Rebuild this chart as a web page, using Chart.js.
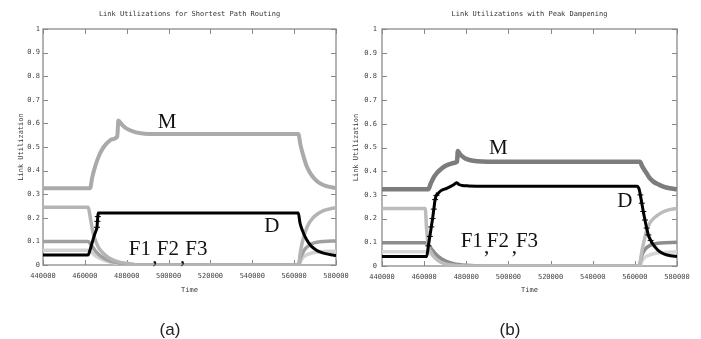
<!DOCTYPE html>
<html>
<head>
<meta charset="utf-8">
<script src="https://cdn.jsdelivr.net/npm/chart.js@4.4.1/dist/chart.umd.min.js"></script>
<style>
  html, body { margin: 0; padding: 0; background: #fff; }
  #wrap { position: relative; width: 701px; height: 339px; overflow: hidden; }
  canvas { position: absolute; top: 0; }
  #chartA { left: 0; }
  #chartB { left: 350px; }
</style>
</head>
<body>
<div id="wrap">
  <canvas id="chartA" width="350" height="339"></canvas>
  <canvas id="chartB" width="351" height="339"></canvas>
</div>
<script>
// (a) shortest path routing: time stamps and link utilizations per link
const tA_M  = [440000, 462500, 463500, 465000, 467000, 469000, 471000, 473000, 475500, 476000, 478000, 480000, 483000, 486000, 491000, 562000, 563000, 564000, 566000, 568000, 570000, 572000, 575000, 580000];
const uA_M  = [0.325, 0.325, 0.37, 0.42, 0.468, 0.5, 0.52, 0.533, 0.545, 0.612, 0.592, 0.578, 0.566, 0.559, 0.555, 0.555, 0.51, 0.475, 0.418, 0.385, 0.363, 0.348, 0.335, 0.326];
const tA_D  = [440000, 461500, 462500, 463500, 464500, 465500, 465800, 466000, 466200, 466400, 562000, 562800, 564000, 565200, 566700, 568400, 570300, 572300, 575000, 578600, 580000];
const uA_D  = [0.042, 0.042, 0.065, 0.095, 0.125, 0.15, 0.16, 0.185, 0.205, 0.22, 0.22, 0.178, 0.145, 0.12, 0.097, 0.078, 0.065, 0.056, 0.048, 0.042, 0.04];
const tA_F1 = [440000, 461500, 462800, 464000, 465600, 467000, 468800, 471000, 473600, 477000, 480000, 486000, 562000, 563000, 564000, 565500, 567000, 569000, 571000, 574000, 577000, 580000];
const uA_F1 = [0.245, 0.245, 0.19, 0.134, 0.092, 0.068, 0.05, 0.033, 0.021, 0.011, 0.007, 0, 0, 0.055, 0.1, 0.145, 0.175, 0.2, 0.215, 0.23, 0.238, 0.243];
const tA_F2 = [440000, 461500, 463000, 465000, 467000, 470000, 474000, 480000, 488000, 562000, 563000, 564500, 566000, 568000, 570000, 574000, 580000];
const uA_F2 = [0.1, 0.1, 0.085, 0.06, 0.042, 0.025, 0.012, 0.004, 0, 0, 0.03, 0.058, 0.075, 0.088, 0.095, 0.1, 0.102];
const tA_F3 = [440000, 461500, 463000, 465000, 468000, 472000, 478000, 486000, 562000, 564000, 566000, 569000, 574000, 580000];
const uA_F3 = [0.062, 0.062, 0.055, 0.04, 0.025, 0.012, 0.004, 0, 0, 0.03, 0.043, 0.052, 0.057, 0.058];

// (b) peak dampening
const tB_M  = [440000, 462000, 463000, 464300, 466000, 467500, 469000, 470700, 472500, 474600, 475600, 476000, 477000, 478500, 480000, 482000, 485000, 490000, 562400, 563500, 565600, 567000, 568800, 571000, 573500, 576500, 580000];
const uB_M  = [0.324, 0.324, 0.345, 0.37, 0.392, 0.405, 0.416, 0.425, 0.431, 0.436, 0.44, 0.485, 0.472, 0.46, 0.452, 0.446, 0.442, 0.44, 0.44, 0.42, 0.391, 0.372, 0.356, 0.345, 0.335, 0.328, 0.324];
const tB_D  = [440000, 461200, 462000, 462700, 463400, 464000, 464600, 465200, 465800, 466500, 468000, 470700, 473800, 475400, 476500, 478000, 481000, 490000, 561000, 562000, 562600, 563300, 564000, 564800, 565600, 566400, 567500, 568800, 570300, 571900, 574000, 577000, 580000];
const uB_D  = [0.04, 0.04, 0.085, 0.125, 0.165, 0.2, 0.24, 0.28, 0.298, 0.305, 0.318, 0.328, 0.342, 0.351, 0.344, 0.34, 0.338, 0.337, 0.337, 0.325, 0.3, 0.265, 0.23, 0.194, 0.16, 0.131, 0.108, 0.089, 0.073, 0.06, 0.05, 0.043, 0.04];
const tB_F1 = [440000, 460500, 461200, 462000, 463500, 465000, 467500, 470000, 474000, 480000, 562000, 563500, 565600, 567000, 568800, 571000, 573500, 576500, 580000];
const uB_F1 = [0.243, 0.243, 0.152, 0.085, 0.055, 0.035, 0.018, 0.009, 0.003, 0, 0, 0.07, 0.15, 0.18, 0.2, 0.216, 0.229, 0.238, 0.243];
const tB_F2 = [440000, 460500, 462000, 463500, 465000, 467000, 470000, 474000, 480000, 488000, 562000, 563300, 564800, 566500, 568800, 571900, 580000];
const uB_F2 = [0.098, 0.098, 0.09, 0.072, 0.055, 0.038, 0.022, 0.01, 0.003, 0, 0, 0.045, 0.07, 0.083, 0.092, 0.097, 0.1];
const tB_F3 = [440000, 460500, 462000, 464000, 466500, 470000, 475000, 482000, 562000, 564000, 566500, 570000, 575000, 580000];
const uB_F3 = [0.06, 0.06, 0.056, 0.045, 0.03, 0.015, 0.005, 0, 0, 0.03, 0.045, 0.054, 0.058, 0.06];

const mono = '"DejaVu Sans Mono", monospace';

// one dataset per link, drawn as a thick line
function series(times, utils, color, width, crossWindows) {
  return {
    data: times.map((t, i) => ({ x: t, y: utils[i] })),
    borderColor: color,
    borderWidth: width,
    cubicInterpolationMode: 'monotone',
    fill: false,
    pointStyle: 'cross',
    pointBorderColor: color,
    pointBorderWidth: 1,
    pointRadius: ctx => {
      if (!crossWindows || !ctx.raw) return 0;
      return crossWindows.some(w => ctx.raw.x >= w[0] && ctx.raw.x <= w[1]) ? 3 : 0;
    }
  };
}

// gnuplot style frame: box, inward ticks, titles and curve labels
const gnuFrame = {
  id: 'gnuFrame',
  beforeDatasetsDraw(chart) {
    const { ctx, chartArea: a, scales: { x, y } } = chart;
    ctx.save();
    ctx.strokeStyle = '#9a9a9a';
    ctx.lineWidth = 1.5;
    ctx.strokeRect(a.left, a.top, a.right - a.left, a.bottom - a.top);
    ctx.lineWidth = 1;
    ctx.strokeStyle = '#888';
    ctx.beginPath();
    x.ticks.forEach(t => {
      const px = Math.round(x.getPixelForValue(t.value)) + 0.5;
      ctx.moveTo(px, a.bottom); ctx.lineTo(px, a.bottom - 5);
      ctx.moveTo(px, a.top); ctx.lineTo(px, a.top + 5);
    });
    y.ticks.forEach(t => {
      const py = Math.round(y.getPixelForValue(t.value)) + 0.5;
      ctx.moveTo(a.left, py); ctx.lineTo(a.left + 5, py);
      ctx.moveTo(a.right, py); ctx.lineTo(a.right - 5, py);
    });
    ctx.stroke();
    ctx.restore();
  },
  afterDraw(chart, args, opts) {
    const { ctx, chartArea: a, scales: { x, y } } = chart;
    const cx = (a.left + a.right) / 2;
    ctx.save();
    ctx.fillStyle = '#333';
    ctx.textAlign = 'center';
    ctx.textBaseline = 'middle';
    ctx.font = '7px ' + mono;
    ctx.fillText(opts.title, cx, 14);
    ctx.fillText('Time', cx, 290);
    ctx.save();
    ctx.translate(opts.yTitleX, (a.top + a.bottom) / 2);
    ctx.rotate(-Math.PI / 2);
    ctx.fillText('Link Utilization', 0, 0);
    ctx.restore();

    // curve names, placed in data coordinates
    ctx.fillStyle = '#111';
    ctx.font = '21px "Liberation Serif", serif';
    opts.labels.forEach(l => {
      ctx.fillText(l.text, x.getPixelForValue(l.x), y.getPixelForValue(l.y));
    });

    ctx.fillStyle = '#222';
    ctx.font = '17px "Liberation Sans", Arial, sans-serif';
    ctx.fillText(opts.caption, opts.captionX, 330);
    ctx.restore();
  }
};

function makeChart(id, datasets, cfg) {
  return new Chart(document.getElementById(id), {
    type: 'line',
    data: { datasets: datasets },
    plugins: [gnuFrame],
    options: {
      responsive: false,
      animation: false,
      devicePixelRatio: 1,
      layout: { padding: { top: 29, right: cfg.padRight, left: 0, bottom: 0 } },
      plugins: {
        legend: { display: false },
        tooltip: { enabled: false },
        gnuFrame: cfg
      },
      scales: {
        x: {
          type: 'linear',
          min: 440000,
          max: 580000,
          afterFit: s => { s.height = cfg.xHeight; s.paddingLeft = 0; s.paddingRight = 0; },
          grid: { display: false, drawTicks: false },
          border: { display: false },
          ticks: {
            stepSize: 20000,
            padding: 7,
            maxRotation: 0,
            color: '#444',
            font: { family: mono, size: 7 },
            callback: v => String(v)
          }
        },
        y: {
          min: 0,
          max: 1,
          afterFit: s => { s.width = cfg.yWidth; s.paddingTop = 0; s.paddingBottom = 0; },
          grid: { display: false, drawTicks: false },
          border: { display: false },
          ticks: {
            stepSize: 0.1,
            padding: cfg.yPad,
            color: '#444',
            font: { family: mono, size: 7 },
            callback: v => String(+v.toFixed(1))
          }
        }
      }
    }
  });
}

makeChart('chartA', [
  series(tA_D, uA_D, '#000', 3, [[465700, 466300]]),
  series(tA_M, uA_M, '#aaaaaa', 4),
  series(tA_F1, uA_F1, '#b4b4b4', 3.5),
  series(tA_F2, uA_F2, '#a0a0a0', 3.5),
  series(tA_F3, uA_F3, '#d2d2d2', 3.5)
], {
  title: 'Link Utilizations for Shortest Path Routing',
  caption: '(a)',
  captionX: 170,
  yTitleX: 21,
  yWidth: 43,
  yPad: 3,
  xHeight: 74,
  padRight: 14,
  labels: [
    { text: 'M', x: 499300, y: 0.603 },
    { text: 'D', x: 549300, y: 0.162 },
    { text: 'F1', x: 486300, y: 0.064 },
    { text: 'F2', x: 499700, y: 0.064 },
    { text: 'F3', x: 513300, y: 0.064 },
    { text: ',', x: 493500, y: 0.033 },
    { text: ',', x: 506700, y: 0.033 }
  ]
});

makeChart('chartB', [
  series(tB_D, uB_D, '#000', 3, [[461500, 466000], [562500, 568500]]),
  series(tB_M, uB_M, '#7c7c7c', 4.5),
  series(tB_F1, uB_F1, '#bcbcbc', 3.5),
  series(tB_F2, uB_F2, '#8c8c8c', 3.5),
  series(tB_F3, uB_F3, '#d6d6d6', 3.5)
], {
  title: 'Link Utilizations with Peak Dampening',
  caption: '(b)',
  captionX: 160,
  yTitleX: 6,
  yWidth: 32,
  yPad: 5,
  xHeight: 73,
  padRight: 24,
  labels: [
    { text: 'M', x: 495200, y: 0.497 },
    { text: 'D', x: 555300, y: 0.271 },
    { text: 'F1', x: 482600, y: 0.103 },
    { text: 'F2', x: 495000, y: 0.103 },
    { text: 'F3', x: 508800, y: 0.103 },
    { text: ',', x: 489700, y: 0.077 },
    { text: ',', x: 502800, y: 0.077 }
  ]
});
</script>
</body>
</html>
